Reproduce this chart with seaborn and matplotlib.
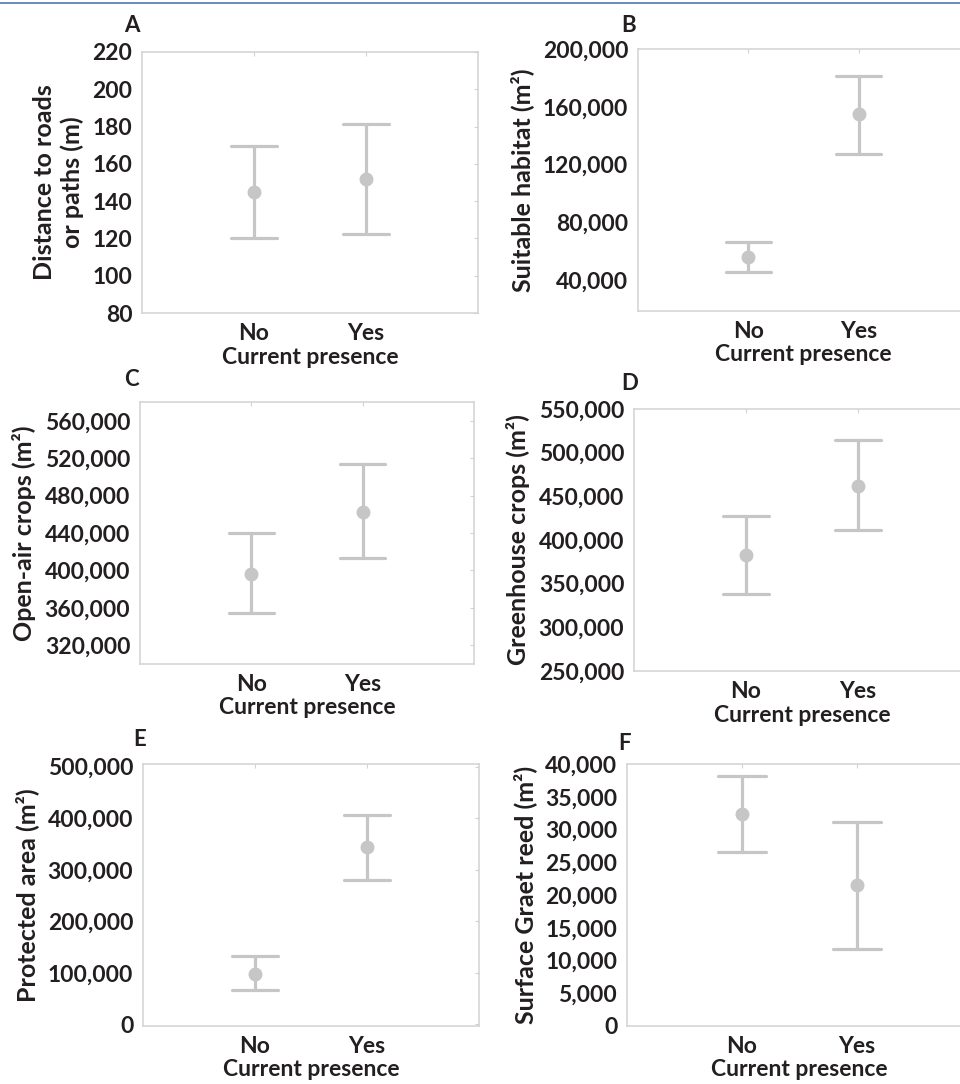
import matplotlib
matplotlib.use("Agg")
import matplotlib.pyplot as plt
from matplotlib.lines import Line2D
from matplotlib.ticker import FuncFormatter
import seaborn as sns
import pandas as pd

# categories on the x axis
presence = ["No", "Yes"]

# per panel: lower limit, mean, upper limit for No / Yes
dist_lo = [120, 122.5]
dist_mean = [145, 152]
dist_hi = [169.5, 181.5]

habitat_lo = [45800, 127400]
habitat_mean = [56200, 154700]
habitat_hi = [66600, 181300]

openair_lo = [354600, 413200]
openair_mean = [396400, 462800]
openair_hi = [440000, 513900]

greenhouse_lo = [337700, 411500]
greenhouse_mean = [382800, 462200]
greenhouse_hi = [427600, 514100]

protected_lo = [66500, 279400]
protected_mean = [98700, 343900]
protected_hi = [132300, 406500]

reed_lo = [26500, 11800]
reed_mean = [32350, 21500]
reed_hi = [38100, 31200]

panel_letters = ["A", "B", "C", "D", "E", "F"]
ylabels = ["Distance to roads\nor paths (m)", "Suitable habitat (m²)", "Open-air crops (m²)",
           "Greenhouse crops (m²)", "Protected area (m²)", "Surface Graet reed (m²)"]
yticks = [list(range(80, 221, 20)), list(range(40000, 200001, 40000)),
          list(range(320000, 560001, 40000)), list(range(250000, 550001, 50000)),
          list(range(0, 500001, 100000)), list(range(0, 40001, 5000))]
ylims = [(80, 220), (18500, 200000), (300000, 580000), (250000, 550000), (-3000, 505000), (0, 40000)]

series = [(dist_lo, dist_mean, dist_hi), (habitat_lo, habitat_mean, habitat_hi),
          (openair_lo, openair_mean, openair_hi), (greenhouse_lo, greenhouse_mean, greenhouse_hi),
          (protected_lo, protected_mean, protected_hi), (reed_lo, reed_mean, reed_hi)]

# axes boxes in pixels: left, top, right, bottom
boxes = [(142, 52, 478, 313), (638, 49, 969, 311), (140, 402, 474, 664),
         (634, 409, 970, 671), (143, 764, 479, 1026), (627, 764, 972, 1026)]
letter_pos = [(132, 25), (629, 25), (131, 379), (630, 384), (140, 739), (625, 743)]

W, H = 960, 1084
sns.set_style("white")
plt.rcParams["font.family"] = "Lato"
plt.rcParams["font.weight"] = "bold"

txt = "#231f20"
grey = "#c6c6c6"
spine = "#d2d2d2"
fs = 16.5

fig = plt.figure(figsize=(W / 100, H / 100), dpi=100)
fig.add_artist(Line2D([0, 1], [1 - 2.5 / H, 1 - 2.5 / H], color="#3d6da3", linewidth=1.1))

for i in range(6):
    l, t, r, b = boxes[i]
    ax = fig.add_axes([l / W, 1 - b / H, (r - l) / W, (b - t) / H])
    lo, mean, hi = series[i]
    rows = []
    for j, cat in enumerate(presence):
        for v in (lo[j], mean[j], hi[j]):
            rows.append({"presence": cat, "value": v})
    df = pd.DataFrame(rows)

    sns.pointplot(data=df, x="presence", y="value", order=presence, estimator="median",
                  errorbar=lambda v: (v.min(), v.max()), capsize=0.41, color=grey,
                  linestyle="none", markersize=8, err_kws={"linewidth": 2.3}, ax=ax)

    ax.set_xlim(-1, 2)
    ax.set_ylim(*ylims[i])
    ax.set_yticks(yticks[i])
    ax.yaxis.set_major_formatter(FuncFormatter(lambda v, p: f"{v:,.0f}"))
    ax.set_xticks([0, 1])
    ax.set_xticklabels(presence)
    ax.set_ylabel(ylabels[i], fontsize=18, fontweight="bold", color=txt, labelpad=6)
    ax.set_xlabel("Current presence", fontsize=fs, fontweight="bold", color=txt, labelpad=2)
    ax.tick_params(axis="both", which="major", labelsize=fs, labelcolor=txt, color=spine,
                   length=3, width=1.0, direction="out", pad=4)
    for s in ax.spines.values():
        s.set_color(spine)
        s.set_linewidth(1.1)

    # faint inward ticks on the right and top frame
    sec_y = ax.secondary_yaxis("right")
    sec_y.set_yticks(yticks[i])
    sec_y.tick_params(direction="in", length=3, color=spine, labelright=False)
    sec_y.spines["right"].set_visible(False)
    sec_x = ax.secondary_xaxis("top")
    sec_x.set_xticks([0, 1])
    sec_x.tick_params(direction="in", length=3, color=spine, labeltop=False)
    sec_x.spines["top"].set_visible(False)

    fig.text(letter_pos[i][0] / W, 1 - letter_pos[i][1] / H, panel_letters[i],
             ha="center", va="center", fontsize=16, fontweight="bold",
             family="Lato", color=txt)

fig.savefig("out.png", dpi=100)
